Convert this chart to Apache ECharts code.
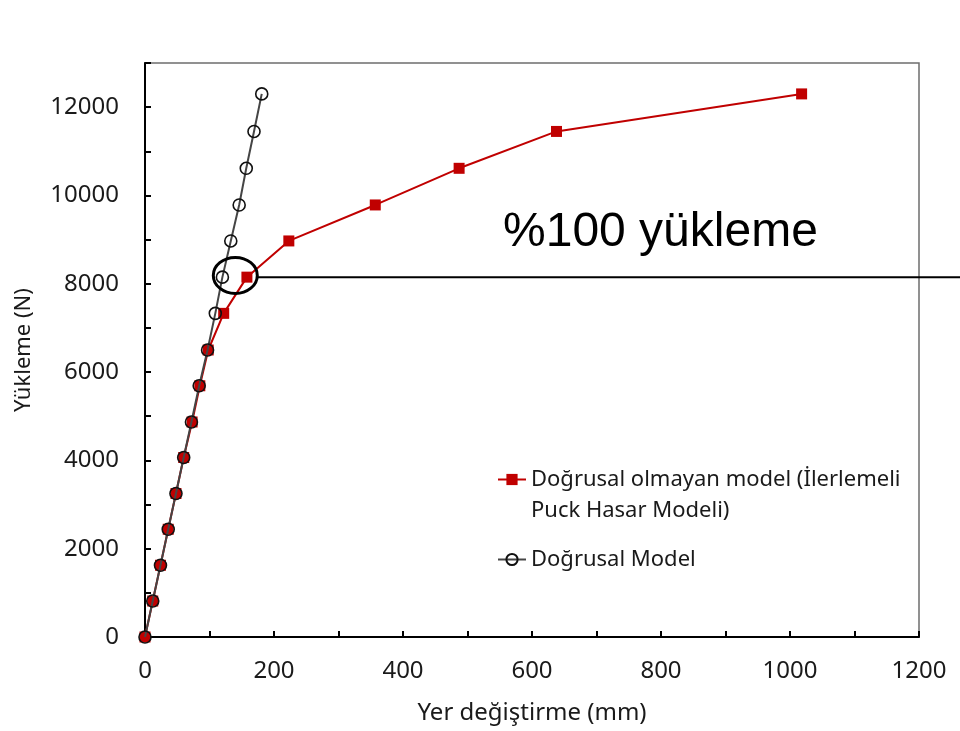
<!DOCTYPE html>
<html>
<head>
<meta charset="utf-8">
<script src="https://cdn.jsdelivr.net/npm/echarts@6/dist/echarts.min.js"></script>
<style>
  html, body { margin: 0; padding: 0; background: #fff; }
  #main { width: 960px; height: 731px; }
</style>
</head>
<body>
<div id="main"></div>
<script>
// yük değerleri (N), iki model aynı yük adımlarını kullanıyor
var loadSteps = [0, 815, 1625, 2440, 3250, 4065, 4870, 5690, 6500, 7330, 8150, 8970, 9785, 10615, 11450, 12300];
// yer değiştirme (mm)
var nonlinearDisp = [0, 12, 24, 36, 48, 60, 73, 85, 98, 122, 158, 223, 357, 487, 638, 1018];
var linearDisp = [0, 12, 24, 36, 48, 60, 72, 84, 97, 109, 120, 133, 146, 157, 169, 181];
var nonlinearName = 'Doğrusal olmayan model (İlerlemeli\nPuck Hasar Modeli)';
var linearName = 'Doğrusal Model';
var calloutText = '%100 yükleme';
var calloutIndex = 10;   // %100 yükleme noktası

var chart = echarts.init(document.getElementById('main'), null, { width: 960, height: 731 });

var labelFont = 'Noto Sans';
var textColor = '#1a1a1a';
var axisLine = { lineStyle: { color: '#000', width: 2 } };
var axisTick = { inside: true, length: 6, lineStyle: { color: '#000', width: 2 } };
var legendText = { fontFamily: labelFont, fontSize: 22, color: textColor, lineHeight: 31 };

function pairs(xs, ys) {
  return xs.map(function (x, i) { return [x, ys[i]]; });
}

var option = {
  animation: false,
  backgroundColor: '#fff',
  grid: {
    left: 145,
    right: 41,
    top: 63,
    bottom: 94,
    show: true,
    borderColor: '#6e6e6e',
    borderWidth: 1.5
  },
  legend: [{
    data: [nonlinearName],
    orient: 'vertical',
    left: 492,
    top: 428,
    itemWidth: 28,
    itemHeight: 14,
    // boş ilk satır: simge ilk metin satırıyla hizalansın
    formatter: function (name) { return '\n' + name; },
    textStyle: legendText
  }, {
    data: [linearName],
    orient: 'vertical',
    left: 492,
    top: 539,
    itemWidth: 28,
    itemHeight: 14,
    textStyle: legendText
  }],
  xAxis: {
    type: 'value',
    min: 0,
    max: 1200,
    interval: 100,
    name: 'Yer değiştirme (mm)',
    nameLocation: 'middle',
    nameGap: 64,
    nameTextStyle: { fontFamily: labelFont, fontSize: 24, color: textColor },
    axisLine: axisLine,
    axisTick: axisTick,
    splitLine: { show: false },
    axisLabel: {
      margin: 22,
      fontFamily: labelFont,
      fontSize: 24,
      color: textColor,
      formatter: function (v) { return v % 200 === 0 ? String(v) : ''; }
    }
  },
  yAxis: {
    type: 'value',
    min: 0,
    max: 13000,
    interval: 1000,
    name: 'Yükleme (N)',
    nameLocation: 'middle',
    nameGap: 110,
    nameTextStyle: { fontFamily: labelFont, fontSize: 22, color: textColor },
    axisLine: axisLine,
    axisTick: axisTick,
    splitLine: { show: false },
    axisLabel: {
      margin: 26,
      fontFamily: labelFont,
      fontSize: 24,
      color: textColor,
      formatter: function (v) { return v % 2000 === 0 ? String(v) : ''; }
    }
  },
  series: [{
    name: nonlinearName,
    type: 'line',
    data: pairs(nonlinearDisp, loadSteps),
    symbol: 'rect',
    symbolSize: 11,
    lineStyle: { color: '#c00000', width: 2 },
    itemStyle: { color: '#c00000' },
    z: 2
  }, {
    name: linearName,
    type: 'line',
    data: pairs(linearDisp, loadSteps),
    symbol: 'circle',
    symbolSize: 12,
    lineStyle: { color: '#454545', width: 2 },
    itemStyle: { color: 'rgba(0,0,0,0)', borderColor: '#111', borderWidth: 1.6 },
    z: 3
  }]
};
chart.setOption(option);

// işaret halkası ve çizgi: veri koordinatından piksele
var ringCenter = chart.convertToPixel({ gridIndex: 0 }, [140, loadSteps[calloutIndex] + 40]);
var lineY = chart.convertToPixel({ gridIndex: 0 }, [0, loadSteps[calloutIndex]])[1];
var rx = 22, ry = 18;
chart.setOption({
  graphic: [{
    type: 'ellipse',
    shape: { cx: ringCenter[0], cy: ringCenter[1], rx: rx, ry: ry },
    style: { fill: null, stroke: '#000', lineWidth: 3 },
    z: 10
  }, {
    type: 'line',
    shape: { x1: ringCenter[0] + rx, y1: lineY, x2: 960, y2: lineY },
    style: { stroke: '#000', lineWidth: 2 },
    z: 10
  }, {
    type: 'text',
    left: 503,
    top: 209,
    style: {
      text: calloutText,
      font: '48px "Liberation Sans", Arial, sans-serif',
      fill: '#000'
    },
    z: 10
  }]
});
</script>
</body>
</html>
